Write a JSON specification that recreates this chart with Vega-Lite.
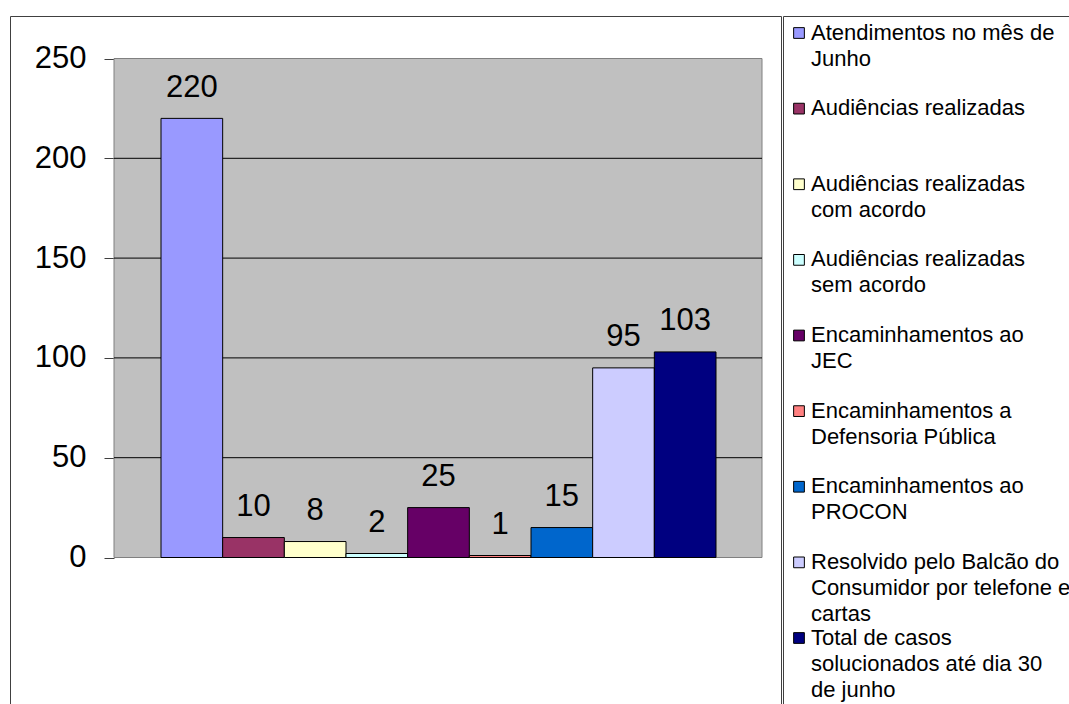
{
  "$schema": "https://vega.github.io/schema/vega-lite/v6.json",
  "padding": {"left": 9, "top": 15, "right": 0, "bottom": 0},
  "background": "white",
  "config": {"view": {"stroke": null}, "font": "Liberation Sans"},
  "data": {"values": [
    {"serie": "Atendimentos no mês de Junho", "rotulo": "Atendimentos no mês de\nJunho", "valor": 220},
    {"serie": "Audiências realizadas", "rotulo": "Audiências realizadas", "valor": 10},
    {"serie": "Audiências realizadas com acordo", "rotulo": "Audiências realizadas\ncom acordo", "valor": 8},
    {"serie": "Audiências realizadas sem acordo", "rotulo": "Audiências realizadas\nsem acordo", "valor": 2},
    {"serie": "Encaminhamentos ao JEC", "rotulo": "Encaminhamentos ao\nJEC", "valor": 25},
    {"serie": "Encaminhamentos a Defensoria Pública", "rotulo": "Encaminhamentos a\nDefensoria Pública", "valor": 1},
    {"serie": "Encaminhamentos ao PROCON", "rotulo": "Encaminhamentos ao\nPROCON", "valor": 15},
    {"serie": "Resolvido pelo Balcão do Consumidor por telefone e cartas", "rotulo": "Resolvido pelo Balcão do\nConsumidor por telefone e\ncartas", "valor": 95},
    {"serie": "Total de casos solucionados até dia 30 de junho", "rotulo": "Total de casos\nsolucionados até dia 30\nde junho", "valor": 103}
  ]},
  "spacing": 0,
  "hconcat": [
    {
      "width": 771,
      "height": 689,
      "view": {"stroke": "#404040", "strokeWidth": 1, "fill": "white"},
      "layer": [
        {
          "data": {"values": [{}]},
          "mark": {"type": "rect", "fill": "#C0C0C0", "stroke": "#808080", "strokeWidth": 1},
          "encoding": {
            "x": {"datum": 0, "type": "quantitative", "scale": {"domain": [0, 1], "range": [104, 752]}, "axis": null},
            "x2": {"datum": 1},
            "y": {"datum": 0, "type": "quantitative", "scale": {"domain": [0, 250], "range": [541.5, 42.5], "nice": false},
              "axis": {"values": [0, 50, 100, 150, 200, 250], "offset": -104, "title": null, "grid": false,
                "domain": true, "domainColor": "#404040", "ticks": true, "tickSize": 10, "tickColor": "#404040",
                "labelFontSize": 31, "labelPadding": 18, "labelColor": "black", "labelFlush": false}},
            "y2": {"datum": 250}
          }
        },
        {
          "data": {"values": [{"g": 50}, {"g": 100}, {"g": 150}, {"g": 200}]},
          "mark": {"type": "rule", "color": "black", "strokeWidth": 1},
          "encoding": {
            "x": {"datum": 0, "type": "quantitative", "scale": {"domain": [0, 1], "range": [104, 752]}, "axis": null},
            "x2": {"datum": 1},
            "y": {"field": "g", "type": "quantitative", "scale": {"domain": [0, 250], "range": [541.5, 42.5], "nice": false},
              "axis": {"values": [0, 50, 100, 150, 200, 250], "offset": -104, "title": null, "grid": false,
                "domain": true, "domainColor": "#404040", "ticks": true, "tickSize": 10, "tickColor": "#404040",
                "labelFontSize": 31, "labelPadding": 18, "labelColor": "black", "labelFlush": false}}
          }
        },
        {
          "mark": {"type": "bar", "stroke": "black", "strokeWidth": 1},
          "encoding": {
            "x": {"field": "serie", "type": "nominal", "sort": null, "scale": {"type": "band", "range": [151, 706], "paddingInner": 0, "paddingOuter": 0}, "axis": null},
            "y": {"field": "valor", "type": "quantitative", "scale": {"domain": [0, 250], "range": [541.5, 42.5], "nice": false},
              "axis": {"values": [0, 50, 100, 150, 200, 250], "offset": -104, "title": null, "grid": false,
                "domain": true, "domainColor": "#404040", "ticks": true, "tickSize": 10, "tickColor": "#404040",
                "labelFontSize": 31, "labelPadding": 18, "labelColor": "black", "labelFlush": false}},
            "color": {"field": "serie", "type": "nominal",
              "scale": {"domain": ["Atendimentos no mês de Junho", "Audiências realizadas", "Audiências realizadas com acordo", "Audiências realizadas sem acordo", "Encaminhamentos ao JEC", "Encaminhamentos a Defensoria Pública", "Encaminhamentos ao PROCON", "Resolvido pelo Balcão do Consumidor por telefone e cartas", "Total de casos solucionados até dia 30 de junho"],
                "range": ["#9999FF", "#993366", "#FFFFCC", "#CCFFFF", "#660066", "#FF8080", "#0066CC", "#CCCCFF", "#000080"]},
              "legend": null}
          }
        },
        {
          "mark": {"type": "text", "fontSize": 31, "baseline": "alphabetic", "dy": -21.5, "color": "black"},
          "encoding": {
            "x": {"field": "serie", "type": "nominal", "sort": null, "scale": {"type": "band", "range": [151, 706], "paddingInner": 0, "paddingOuter": 0}, "axis": null},
            "y": {"field": "valor", "type": "quantitative", "scale": {"domain": [0, 250], "range": [541.5, 42.5], "nice": false},
              "axis": {"values": [0, 50, 100, 150, 200, 250], "offset": -104, "title": null, "grid": false,
                "domain": true, "domainColor": "#404040", "ticks": true, "tickSize": 10, "tickColor": "#404040",
                "labelFontSize": 31, "labelPadding": 18, "labelColor": "black", "labelFlush": false}},
            "text": {"field": "valor", "type": "quantitative"}
          }
        }
      ],
      "resolve": {"scale": {"x": "independent"}}
    },
    {
      "width": 286,
      "height": 689,
      "view": {"stroke": "#404040", "strokeWidth": 1, "fill": "white"},
      "layer": [
        {
          "mark": {"type": "point", "shape": "square", "filled": true, "size": 115, "stroke": "black", "strokeWidth": 1, "opacity": 1},
          "encoding": {
            "x": {"datum": 0, "type": "quantitative", "scale": {"domain": [0, 1], "range": [16, 286]}, "axis": null},
            "y": {"field": "serie", "type": "nominal", "sort": null, "scale": {"type": "point", "range": [17, 622], "padding": 0}, "axis": null},
            "color": {"field": "serie", "type": "nominal",
              "scale": {"domain": ["Atendimentos no mês de Junho", "Audiências realizadas", "Audiências realizadas com acordo", "Audiências realizadas sem acordo", "Encaminhamentos ao JEC", "Encaminhamentos a Defensoria Pública", "Encaminhamentos ao PROCON", "Resolvido pelo Balcão do Consumidor por telefone e cartas", "Total de casos solucionados até dia 30 de junho"],
                "range": ["#9999FF", "#993366", "#FFFFCC", "#CCFFFF", "#660066", "#FF8080", "#0066CC", "#CCCCFF", "#000080"]},
              "legend": null}
          }
        },
        {
          "mark": {"type": "text", "align": "left", "baseline": "line-top", "fontSize": 22, "lineHeight": 26, "lineBreak": "\n", "dx": 12, "color": "black"},
          "encoding": {
            "x": {"datum": 0, "type": "quantitative", "scale": {"domain": [0, 1], "range": [16, 286]}, "axis": null},
            "y": {"field": "serie", "type": "nominal", "sort": null, "scale": {"type": "point", "range": [4.5, 609.5], "padding": 0}, "axis": null},
            "text": {"field": "rotulo", "type": "nominal"}
          }
        }
      ],
      "resolve": {"scale": {"y": "independent"}}
    }
  ]
}
